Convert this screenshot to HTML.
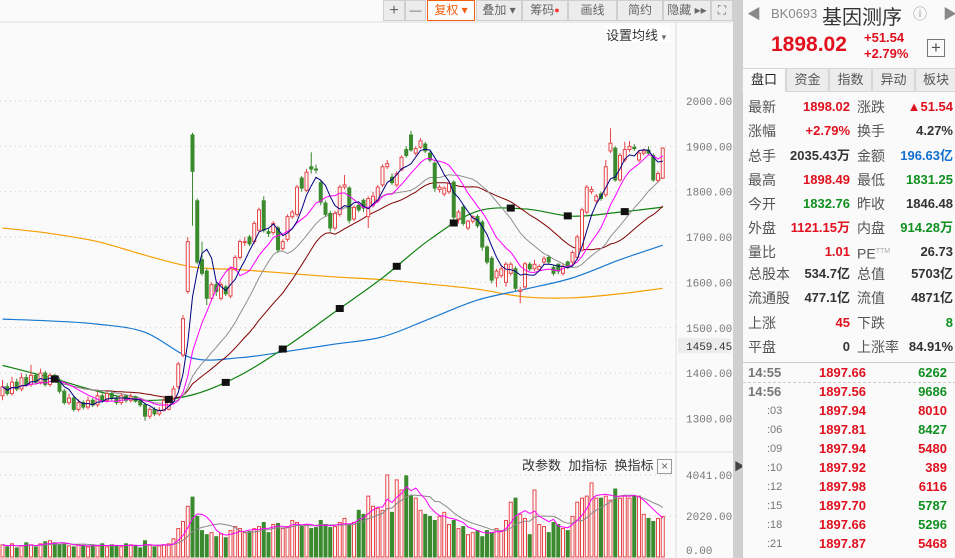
<!DOCTYPE html>
<html><head><meta charset="utf-8">
<style>
*{margin:0;padding:0;box-sizing:border-box}
body{width:955px;height:558px;overflow:hidden;background:#fafafa;font-family:"Liberation Sans","Noto Sans CJK SC",sans-serif;position:relative}
.tb{position:absolute;top:0;height:21px;background:#ececec;border:1px solid #cfcfcf;font-size:12px;color:#666;text-align:center;line-height:19px}
#panel{position:absolute;left:742px;top:0;width:213px;height:558px;background:#fafafa;border-left:1px solid #ccc}
.r{position:absolute;left:0;width:213px;height:22px;font-size:13px;font-weight:bold}
.r span{position:absolute;top:0;line-height:22px;height:22px}
.lb{color:#555;font-weight:normal;font-size:14px}
.red{color:#e0101e}.grn{color:#109020}.blk{color:#333}.blu{color:#1070d0}
.tab{position:absolute;top:68px;height:24px;background:#ececec;border:1px solid #d6d6d6;font-size:13px;color:#555;text-align:center;line-height:22px}
</style></head><body>
<svg id="chart" width="742" height="558" style="position:absolute;left:0;top:0" xmlns="http://www.w3.org/2000/svg"></svg>

<div class="tb" style="left:383px;width:22px;font-size:16px">+</div>
<div class="tb" style="left:405px;width:21px">—</div>
<div class="tb" style="left:427px;width:48px;border-color:#f06010;background:#fff;color:#f06010">复权 ▾</div>
<div class="tb" style="left:476px;width:46px">叠加 ▾</div>
<div class="tb" style="left:522px;width:46px">筹码<span style="color:#f33;font-size:9px;vertical-align:top">●</span></div>
<div class="tb" style="left:568px;width:49px">画线</div>
<div class="tb" style="left:617px;width:46px">简约</div>
<div class="tb" style="left:663px;width:48px">隐藏 ▸▸</div>
<div class="tb" style="left:711px;width:22px">⛶</div>
<div style="position:absolute;left:606px;top:25px;width:64px;height:17px;background:#fff;font-size:13px;color:#333">设置均线 <span style="font-size:9px;color:#666">▾</span></div>
<div style="position:absolute;left:522px;top:455px;font-size:13px;color:#333">
<span>改参数</span>&nbsp;
<span>加指标</span>&nbsp;
<span>换指标</span>
<span style="display:inline-block;width:15px;height:15px;border:1px solid #999;text-align:center;line-height:12px;font-size:12px;color:#666;vertical-align:middle">×</span></div>

<div id="panel">
<div style="position:absolute;left:4px;top:4px;font-size:14px;color:#888">◀</div>
<div style="position:absolute;left:28px;top:6px;font-size:13px;color:#888">BK0693</div>
<div style="position:absolute;left:79px;top:1px;font-size:20px;color:#333">基因测序</div>
<div style="position:absolute;left:170px;top:4px;font-size:14px;color:#999">ⓘ</div>
<div style="position:absolute;left:200px;top:4px;font-size:14px;color:#888">▶</div>
<div class="red" style="position:absolute;left:28px;top:33px;font-size:21px;font-weight:bold">1898.02</div>
<div class="red" style="position:absolute;left:121px;top:30px;font-size:13px;font-weight:bold">+51.54</div>
<div class="red" style="position:absolute;left:121px;top:46px;font-size:13px;font-weight:bold">+2.79%</div>
<div style="position:absolute;left:184px;top:39px;width:18px;height:18px;border:1px solid #777;text-align:center;line-height:15px;font-size:17px;color:#555">+</div>
<div class="tab" style="left:-1px;width:44px;background:#fafafa;border-bottom-color:#fafafa;color:#222">盘口</div>
<div class="tab" style="left:43px;width:43px">资金</div>
<div class="tab" style="left:86px;width:43px">指数</div>
<div class="tab" style="left:129px;width:43px">异动</div>
<div class="tab" style="left:172px;width:42px">板块</div>
<div id="rows"></div>
<div style="position:absolute;left:0;top:362px;width:213px;border-top:1px solid #ccc"></div>
<div style="position:absolute;left:0;top:382px;width:213px;border-top:1px dashed #ccc"></div>
<div id="ticks"></div>
</div>

<script>
// ---- quote data ----
const quoteRows=[
["最新","1898.02","red","涨跌","▲51.54","red"],
["涨幅","+2.79%","red","换手","4.27%","blk"],
["总手","2035.43万","blk","金额","196.63亿","blu"],
["最高","1898.49","red","最低","1831.25","grn"],
["今开","1832.76","grn","昨收","1846.48","blk"],
["外盘","1121.15万","red","内盘","914.28万","grn"],
["量比","1.01","red","PE<sup style='font-size:7px;color:#aaa'>TTM</sup>","26.73","blk"],
["总股本","534.7亿","blk","总值","5703亿","blk"],
["流通股","477.1亿","blk","流值","4871亿","blk"],
["上涨","45","red","下跌","8","grn"],
["平盘","0","blk","上涨率","84.91%","blk"]];
const rowY=[96,120,145,169,193,217,241,263,287,312,336];
const rowsEl=document.getElementById('rows');
quoteRows.forEach((q,k)=>{
 const d=document.createElement('div');d.className='r';d.style.top=rowY[k]+'px';
 
 
 d.innerHTML=`<span class="lb" style="left:5px">${q[0]}</span><span class="${q[2]}" style="right:106px">${q[1]}</span><span class="lb" style="left:114px">${q[3]}</span><span class="${q[5]}" style="right:3px">${q[4]}</span>`;
 rowsEl.appendChild(d);
});
const tickTimes=["14:55","14:56",":03",":06",":09",":10",":12",":15",":18",":21"];
const tickPrices=["1897.66","1897.56","1897.94","1897.81","1897.94","1897.92","1897.98","1897.70","1897.66","1897.87"];
const tickVols=["6262","9686","8010","8427","5480","389","6116","5787","5296","5468"];
const tickVolCol=["grn","grn","red","grn","red","red","red","grn","grn","red"];
const tickY=[362,381,400,419,438,457,476,495,514,533];
const tEl=document.getElementById('ticks');
tickTimes.forEach((t,k)=>{
 const d=document.createElement('div');d.className='r';d.style.top=tickY[k]+'px';
 
 
 const big=k<2;
 d.innerHTML=`<span style="left:${big?5:24}px;color:#777;font-weight:${big?'bold':'normal'};font-size:${big?13:11}px">${t}</span><span class="red" style="right:90px">${tickPrices[k]}</span><span class="${tickVolCol[k]}" style="right:9px">${tickVols[k]}</span>`;
 tEl.appendChild(d);
});
</script>

<script>
// ---- chart data ----
const opens=[1350,1370,1355,1380,1365,1390,1375,1395,1380,1400,1375,1395,1385,1360,1335,1345,1320,1335,1325,1340,1330,1350,1340,1355,1345,1335,1350,1340,1348,1338,1330,1305,1320,1310,1318,1320,1345,1370,1440,1580,1925,1780,1650,1625,1565,1595,1565,1590,1570,1630,1655,1688,1700,1690,1715,1780,1712,1710,1720,1675,1695,1745,1750,1830,1803,1855,1850,1820,1775,1752,1720,1750,1810,1808,1740,1770,1781,1745,1770,1780,1815,1855,1832,1815,1848,1893,1925,1885,1898,1905,1885,1863,1805,1795,1800,1821,1740,1766,1720,1735,1745,1733,1678,1653,1610,1615,1600,1620,1630,1580,1590,1640,1630,1628,1645,1655,1633,1640,1620,1645,1645,1655,1671,1755,1800,1780,1795,1793,1890,1896,1826,1870,1893,1898,1870,1885,1892,1880,1825,1830];
const closes=[1370,1355,1380,1365,1390,1375,1395,1380,1400,1375,1395,1385,1360,1335,1345,1320,1335,1325,1340,1330,1350,1340,1355,1345,1335,1350,1340,1348,1338,1330,1305,1320,1310,1318,1340,1345,1365,1420,1520,1690,1845,1645,1620,1565,1595,1580,1595,1575,1630,1655,1690,1690,1685,1730,1760,1715,1708,1730,1672,1690,1745,1755,1810,1808,1843,1850,1848,1777,1750,1720,1752,1810,1815,1737,1765,1760,1764,1785,1790,1810,1855,1862,1820,1840,1876,1880,1892,1895,1912,1890,1870,1808,1810,1808,1818,1744,1755,1730,1735,1745,1725,1678,1645,1605,1625,1630,1640,1640,1587,1583,1641,1630,1640,1635,1652,1645,1620,1625,1635,1635,1666,1700,1760,1810,1805,1790,1785,1855,1907,1826,1880,1893,1900,1895,1885,1890,1885,1826,1840,1896];
const highs=[1385,1378,1392,1388,1400,1398,1418,1400,1410,1405,1400,1398,1390,1365,1355,1350,1342,1340,1348,1345,1358,1355,1362,1360,1350,1356,1352,1355,1350,1342,1335,1325,1325,1325,1345,1350,1372,1425,1528,1700,1930,1785,1690,1630,1600,1600,1600,1595,1635,1660,1695,1700,1705,1735,1765,1790,1720,1735,1725,1695,1750,1760,1815,1835,1850,1887,1860,1825,1780,1758,1758,1815,1837,1812,1770,1775,1785,1790,1800,1815,1860,1870,1840,1845,1880,1900,1934,1900,1918,1910,1890,1866,1815,1812,1825,1825,1760,1770,1738,1748,1750,1738,1682,1658,1630,1635,1645,1645,1635,1590,1645,1645,1650,1640,1658,1660,1638,1642,1640,1648,1670,1705,1765,1815,1812,1795,1800,1870,1940,1900,1885,1910,1912,1905,1890,1895,1900,1885,1845,1898];
const lows=[1340,1350,1350,1360,1360,1370,1370,1375,1375,1370,1370,1380,1355,1330,1330,1315,1315,1320,1320,1325,1325,1335,1335,1340,1330,1330,1335,1335,1335,1325,1295,1300,1305,1305,1315,1318,1340,1365,1435,1575,1725,1640,1615,1550,1560,1570,1560,1570,1565,1625,1650,1680,1680,1685,1710,1710,1700,1705,1665,1670,1690,1740,1745,1800,1800,1840,1840,1770,1745,1712,1715,1745,1805,1730,1735,1755,1755,1720,1765,1775,1810,1850,1815,1810,1845,1875,1888,1880,1895,1885,1865,1800,1798,1790,1795,1738,1730,1725,1715,1730,1720,1670,1640,1598,1590,1610,1590,1615,1582,1554,1585,1625,1625,1625,1640,1640,1615,1618,1615,1630,1640,1650,1668,1750,1795,1775,1780,1788,1885,1822,1822,1865,1888,1890,1865,1880,1880,1822,1820,1828];
const volumes=[600,500,650,450,550,700,600,500,650,750,800,700,600,650,550,500,600,550,500,600,550,650,500,600,550,500,650,600,550,450,800,600,500,550,600,650,900,1400,1750,2500,2950,2000,1300,1100,1200,1000,1150,950,1300,1500,1400,1200,1250,1400,1500,1700,1200,1600,1650,1400,1500,1800,1700,1500,1600,1400,1450,1800,1600,1450,1500,1700,1900,1600,1700,2300,2100,3000,2500,2400,2300,4041,2200,3800,3300,4000,3000,2900,2300,2100,2000,1800,2000,2200,1600,1800,1400,1500,1100,1200,1300,1000,1300,1200,1400,1300,1800,2700,2900,2100,1900,1100,3300,1600,1500,1200,1700,1600,1400,1300,2000,2700,2900,3000,3650,2900,2900,3000,2800,3350,2900,3000,2900,3000,3000,2100,1900,1750,1900,2000];
const longIdx=[0,10,20,30,40,50,60,70,80,90,100,110,120,130,139];
const ma60=[1417,1390,1360,1340,1352,1395,1460,1535,1610,1695,1757,1762,1746,1755,1766];
const ma120=[1519,1515,1508,1490,1433,1434,1448,1464,1480,1520,1561,1585,1610,1650,1682];
const ma250=[1720,1708,1690,1660,1634,1628,1620,1612,1606,1596,1585,1568,1566,1575,1587];
const markerIdx=[11,35,47,59,71,83,95,107,119,131];
const priceTicks=[2000,1900,1800,1700,1600,1500,1400,1300];
const volTicks=[4041,2020,0];
const lastClose=1459.45;

const NS='http://www.w3.org/2000/svg';
const svg=document.getElementById('chart');
function el(tag,attrs,parent){const e=document.createElementNS(NS,tag);for(const k in attrs)e.setAttribute(k,attrs[k]);(parent||svg).appendChild(e);return e;}
const xOf=i=>2.5+i*4.75;
const yP=p=>101+(2000-p)*0.4535;
const yV=v=>557-v/4041*82;
const RED='#e8474a',GRN='#3b8a2e';

let e;
e=el('line',{x1:0,y1:22,x2:733,y2:22,stroke:'#ddd'});


e=el('line',{x1:676,y1:22,x2:676,y2:558,stroke:'#ddd'});


e=el('line',{x1:0,y1:452,x2:733,y2:452,stroke:'#ddd'});


e=el('rect',{x:733,y:0,width:9,height:558,fill:'#d0d0d0'});


e=el('text',{x:734,y:470,'font-size':11,fill:'#444'});e.textContent='▶';



priceTicks.forEach(p=>{
 const y=yP(p);
 let g=el('line',{x1:0,y1:y,x2:676,y2:y,stroke:'#c8c8c8','stroke-dasharray':'1,4'});
 
 
 let t=el('text',{x:686,y:y+4,'font-size':11,fill:'#777','font-family':'Liberation Mono, monospace'});t.textContent=p.toFixed(2);
 
 
});
e=el('rect',{x:678,y:yP(lastClose)-8,width:52,height:15,fill:'#ececec'});


e=el('text',{x:686,y:yP(lastClose)+4,'font-size':11,fill:'#333','font-family':'Liberation Mono, monospace'});e.textContent=lastClose.toFixed(2);


volTicks.forEach(v=>{
 const y=yV(v);
 if(v>0){let g=el('line',{x1:0,y1:y,x2:676,y2:y,stroke:'#c8c8c8','stroke-dasharray':'1,4'});
 
 }
 let t=el('text',{x:686,y:Math.min(y+4,554),'font-size':11,fill:'#777','font-family':'Liberation Mono, monospace'});t.textContent=v.toFixed(2);
 
 
});

volumes.forEach((v,i)=>{
 const up=closes[i]>=opens[i];const x=xOf(i);
 const r=el('rect',{x:x-1.5,y:yV(v),width:3,height:557-yV(v),fill:up?'#fafafa':GRN,stroke:up?RED:GRN,'stroke-width':1});
 
 
});
function ma(arr,n){return arr.map((_,i)=>{const s=Math.max(0,i-n+1);let t=0;for(let k=s;k<=i;k++)t+=arr[k];return t/(i-s+1);});}
function poly(vals,yf,color,name,w){
 const pts=vals.map((v,i)=>xOf(i).toFixed(1)+','+yf(v).toFixed(1)).join(' ');
 const p=el('polyline',{points:pts,fill:'none',stroke:color,'stroke-width':w||1});
 
 
}
poly(ma(volumes,10),yV,'#888','volume-ma10');
poly(ma(volumes,5),yV,'#f0f','volume-ma5');

function smooth(idx,vals,color,name){
 const P=idx.map((i,k)=>[xOf(i),yP(vals[k])]);
 let d='M'+P[0][0]+','+P[0][1];
 for(let k=0;k<P.length-1;k++){
  const p0=P[Math.max(0,k-1)],p1=P[k],p2=P[k+1],p3=P[Math.min(P.length-1,k+2)];
  const c1=[p1[0]+(p2[0]-p0[0])/6,p1[1]+(p2[1]-p0[1])/6],c2=[p2[0]-(p3[0]-p1[0])/6,p2[1]-(p3[1]-p1[1])/6];
  d+=` C${c1[0]},${c1[1]} ${c2[0]},${c2[1]} ${p2[0]},${p2[1]}`;
 }
 const p=el('path',{d:d,fill:'none',stroke:color,'stroke-width':1.2});
 
 
 return p;
}
smooth(longIdx,ma250,'#f5a000','ma250-line');
smooth(longIdx,ma120,'#1878d0','ma120-line');
const gPath=smooth(longIdx,ma60,'#108010','ma60-line');
poly(ma(closes,30),yP,'#800000','ma30-line');
poly(ma(closes,20),yP,'#909090','ma20-line');

closes.forEach((c,i)=>{
 const o=opens[i],up=c>=o,x=xOf(i),col=up?RED:GRN;
 const g=el('g',{});
 
 
 const top=yP(Math.max(o,c)),bot=yP(Math.min(o,c));
 el('line',{x1:x,y1:yP(highs[i]),x2:x,y2:top,stroke:col},g);
 el('line',{x1:x,y1:bot,x2:x,y2:yP(lows[i]),stroke:col},g);
 el('rect',{x:x-1.5,y:top,width:3,height:Math.max(1,bot-top),fill:up?'#fafafa':col,stroke:col},g);
});
poly(ma(closes,10),yP,'#f0f','ma10-line');
poly(ma(closes,5),yP,'#000080','ma5-line');

const len=gPath.getTotalLength();
markerIdx.forEach(i=>{
 const tx=xOf(i);let lo=0,hi=len;
 for(let k=0;k<30;k++){const m=(lo+hi)/2;if(gPath.getPointAtLength(m).x<tx)lo=m;else hi=m;}
 const pt=gPath.getPointAtLength(lo);
 const r=el('rect',{x:pt.x-4,y:pt.y-3.5,width:8,height:7,fill:'#111'});
 
 
});
</script>
</body></html>
